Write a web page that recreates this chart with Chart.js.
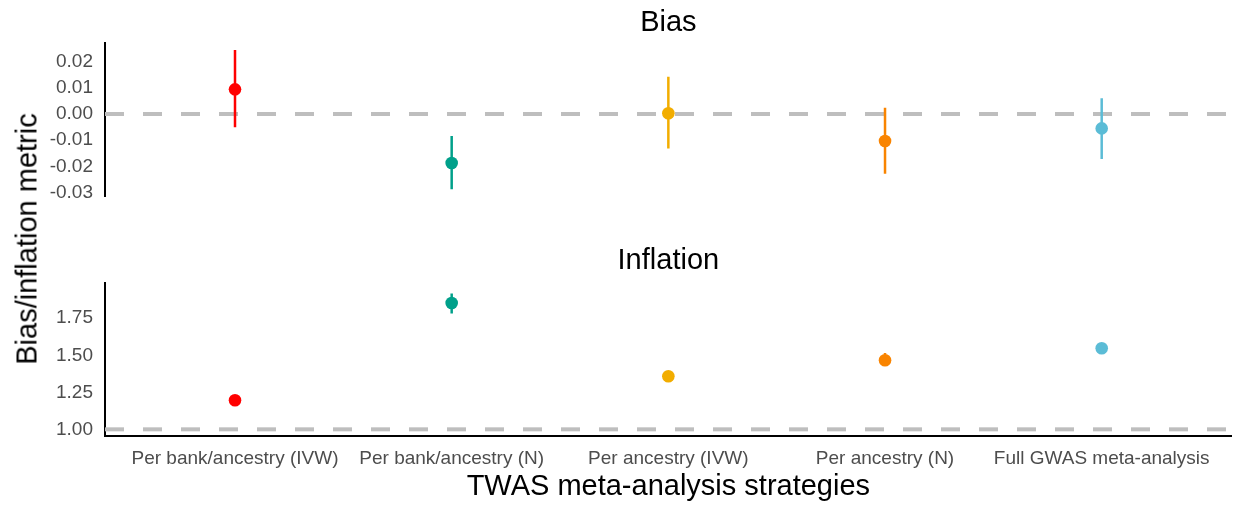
<!DOCTYPE html>
<html>
<head>
<meta charset="utf-8">
<script src="https://cdn.jsdelivr.net/npm/chart.js@4/dist/chart.umd.min.js"></script>
<style>
  body { margin: 0; background: #fff; }
  #wrap { position: relative; width: 1238px; height: 508px; font-family: "Liberation Sans", Arial, sans-serif; }
  canvas { position: absolute; left: 0; top: 0; }
  #ytitle {
    position: absolute; left: 27px; top: 239px;
    transform: translate(-50%, -50%) rotate(-90deg);
    font-size: 29px; white-space: nowrap; color: #000;
  }
</style>
</head>
<body>
<div id="wrap">
  <canvas id="biasChart" width="1238" height="508"></canvas>
  <canvas id="inflationChart" width="1238" height="508"></canvas>
  <div id="ytitle">Bias/inflation metric</div>
</div>
<script>
// strategies (x axis)
const categories = [
  "Per bank/ancestry (IVW)",
  "Per bank/ancestry (N)",
  "Per ancestry (IVW)",
  "Per ancestry (N)",
  "Full GWAS meta-analysis",
];
const pointColors = ["#FF0000", "#00A08A", "#F2AD00", "#F98400", "#5BBCD6"];

// Bias panel
const biasEst = [0.0094, -0.0187, 0.0003, -0.0103, -0.0055];
const biasLow = [-0.0051, -0.0287, -0.0132, -0.0228, -0.0172];
const biasHigh = [0.0244, -0.0084, 0.0142, 0.0024, 0.006];
const biasTicks = [-0.03, -0.02, -0.01, 0, 0.01, 0.02];
const biasRef = 0;
const biasRange = [-0.0313, 0.0271];

// Inflation panel
const inflationEst = [1.196, 1.853, 1.358, 1.466, 1.547];
const inflationLow = [1.185, 1.782, 1.348, 1.445, 1.535];
const inflationHigh = [1.207, 1.917, 1.368, 1.516, 1.56];
const inflationTicks = [1, 1.25, 1.5, 1.75];
const inflationRef = 1;
const inflationRange = [0.955, 1.988];

const xRange = [0.4, 5.6];

Chart.defaults.font.family = '"Liberation Sans", Arial, sans-serif';

// title above each panel
const panelTitle = {
  id: "panelTitle",
  afterDraw(chart, args, opts) {
    const { ctx, chartArea } = chart;
    ctx.save();
    ctx.font = '29px "Liberation Sans", Arial, sans-serif';
    ctx.fillStyle = "#000";
    ctx.textAlign = "center";
    ctx.textBaseline = "alphabetic";
    ctx.fillText(opts.text, (chartArea.left + chartArea.right) / 2, chartArea.top - opts.gap);
    ctx.restore();
  },
};

function makePanel(id, est, low, high, ref, range, ticks, title, gap, padding, showX) {
  const datasets = [];
  // points on top
  datasets.push({
    data: est.map((v, i) => ({ x: i + 1, y: v })),
    pointBackgroundColor: pointColors,
    pointBorderWidth: 0,
    pointRadius: 6.3,
    showLine: false,
  });
  // error bars
  low.forEach((lo, i) => {
    datasets.push({
      data: [{ x: i + 1, y: lo }, { x: i + 1, y: high[i] }],
      borderColor: pointColors[i],
      borderWidth: 2.5,
      pointRadius: 0,
      showLine: true,
    });
  });
  // reference line
  datasets.push({
    data: [{ x: xRange[0], y: ref }, { x: xRange[1], y: ref }],
    borderColor: "#BEBEBE",
    borderWidth: 4,
    borderDash: [19, 19],
    pointRadius: 0,
    showLine: true,
  });

  return new Chart(document.getElementById(id), {
    type: "scatter",
    data: { datasets: datasets },
    plugins: [panelTitle],
    options: {
      responsive: false,
      animation: false,
      events: [],
      layout: { padding: padding },
      plugins: {
        legend: { display: false },
        tooltip: { enabled: false },
        panelTitle: { text: title, gap: gap },
      },
      scales: {
        x: {
          type: "linear",
          display: showX,
          min: xRange[0],
          max: xRange[1],
          afterBuildTicks: (s) => {
            s.ticks = categories.map((c, i) => ({ value: i + 1 }));
          },
          afterFit: (s) => {
            s.height = showX ? 72 : 0;
          },
          grid: { display: false, drawTicks: false },
          border: { display: true, color: "#000", width: 2 },
          ticks: {
            autoSkip: false,
            maxRotation: 0,
            padding: 11,
            color: "#4D4D4D",
            font: { size: 19 },
            callback: (v, i) => categories[i],
          },
          title: {
            display: true,
            text: "TWAS meta-analysis strategies",
            color: "#000",
            font: { size: 29 },
            padding: { top: 0, bottom: 4 },
          },
        },
        y: {
          min: range[0],
          max: range[1],
          afterBuildTicks: (s) => {
            s.ticks = ticks.map((v) => ({ value: v }));
          },
          afterFit: (s) => {
            s.width = 105;
          },
          grid: { display: false, drawTicks: false },
          border: { display: true, color: "#000", width: 2 },
          ticks: {
            autoSkip: false,
            padding: 12,
            color: "#4D4D4D",
            font: { size: 19 },
            callback: (v) => v.toFixed(2),
          },
        },
      },
    },
  });
}

makePanel("biasChart", biasEst, biasLow, biasHigh, biasRef, biasRange, biasTicks,
  "Bias", 12, { left: 0, right: 3, top: 43, bottom: 312 }, false);
makePanel("inflationChart", inflationEst, inflationLow, inflationHigh, inflationRef, inflationRange, inflationTicks,
  "Inflation", 14, { left: 0, right: 3, top: 283, bottom: 0 }, true);
</script>
</body>
</html>
